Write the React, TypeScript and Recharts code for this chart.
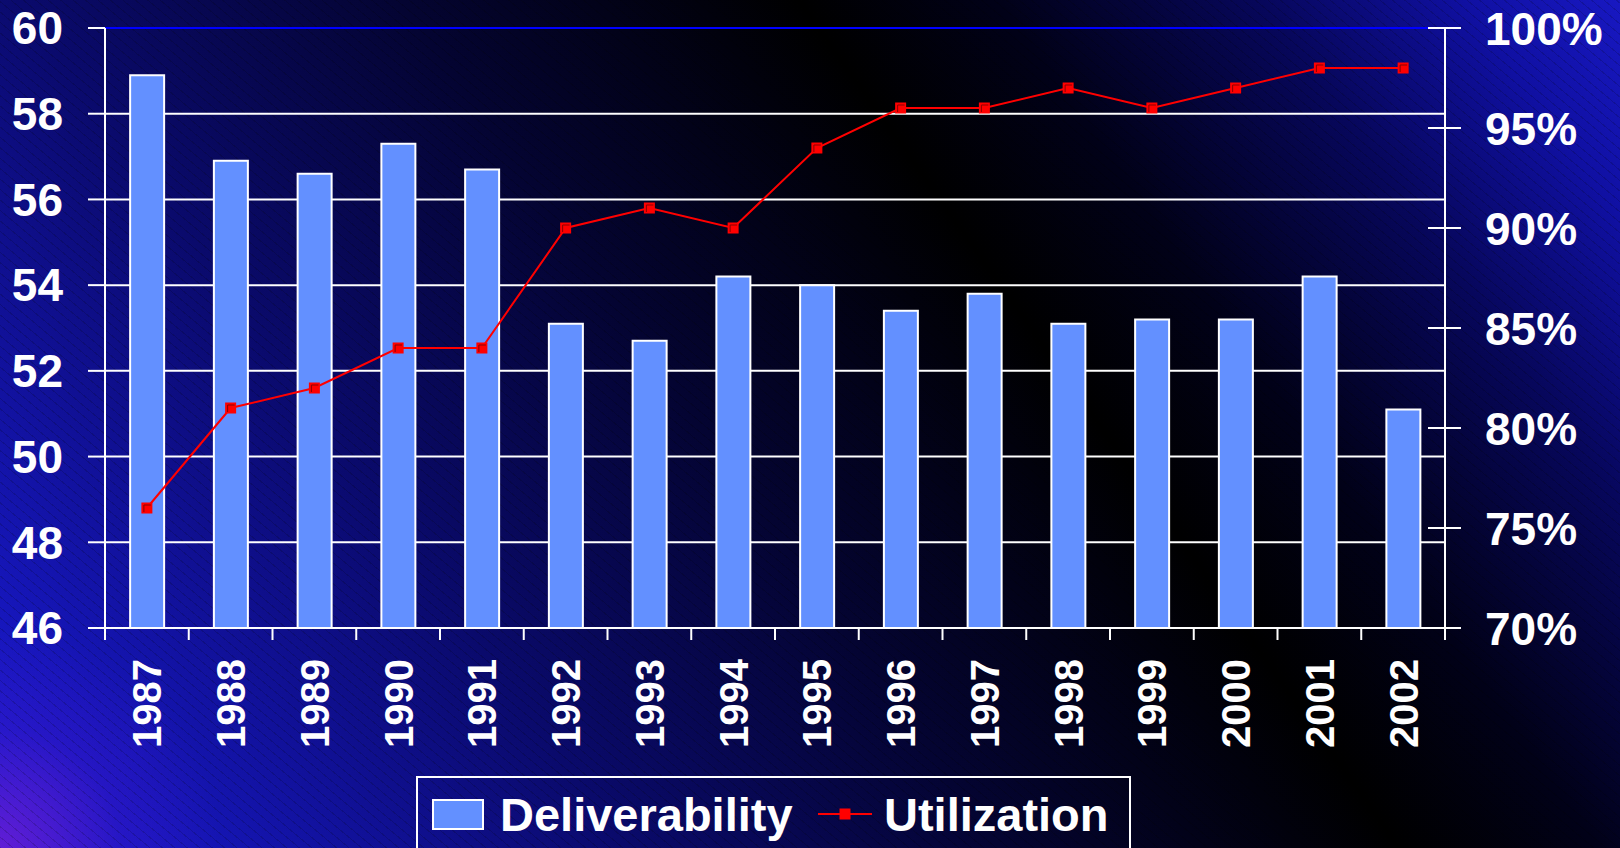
import React from 'react';
import {
  ComposedChart,
  Bar,
  Line,
  XAxis,
  YAxis,
  CartesianGrid,
  ReferenceLine,
  Legend,
} from 'recharts';

const years = ['1987', '1988', '1989', '1990', '1991', '1992', '1993', '1994', '1995', '1996', '1997', '1998', '1999', '2000', '2001', '2002'];
const deliverability = [58.9, 56.9, 56.6, 57.3, 56.7, 53.1, 52.7, 54.2, 54.0, 53.4, 53.8, 53.1, 53.2, 53.2, 54.2, 51.1];
const utilization = [76, 81, 82, 84, 84, 90, 91, 90, 94, 96, 96, 97, 96, 97, 98, 98];
const leftTicks = [46, 48, 50, 52, 54, 56, 58, 60];
const rightTicks = [70, 75, 80, 85, 90, 95, 100];

const data = years.map((year, i) => ({
  year,
  deliverability: deliverability[i],
  utilization: utilization[i],
}));

const FONT = '"Liberation Sans", Arial, Helvetica, sans-serif';
const BAR_BLUE = '#6390ff';

function YearTick(props: any) {
  const { x, y, payload, index, visibleTicksCount } = props;
  const half = payload?.offset ?? 0;
  return (
    <g>
      <line x1={x - half} x2={x - half} y1={y} y2={y + 12} stroke="#fff" strokeWidth={2} />
      {index === visibleTicksCount - 1 && (
        <line x1={x + half} x2={x + half} y1={y} y2={y + 12} stroke="#fff" strokeWidth={2} />
      )}
      <text
        transform={`translate(${x},${y + 31}) rotate(-90)`}
        textAnchor="end"
        dy="0.36em"
        fill="#fff"
        fontSize={40}
        fontWeight={700}
        fontFamily={FONT}
      >
        {payload.value}
      </text>
    </g>
  );
}

function PctTick(props: any) {
  const { x, y, payload } = props;
  return (
    <g>
      <line x1={x - 17} x2={x + 16} y1={y} y2={y} stroke="#fff" strokeWidth={2} />
      <text x={x + 40} y={y} dy="0.36em" textAnchor="start" fill="#fff" fontSize={46} fontWeight={700} fontFamily={FONT}>
        {`${payload.value}%`}
      </text>
    </g>
  );
}

function SquareDot(props: any) {
  const { cx, cy } = props;
  if (cx == null || cy == null) return null;
  return (
    <g>
      <rect x={cx - 5.5} y={cy - 5.5} width={11} height={11} fill="#ff0000" />
      <path d={`M${cx - 3},${cy + 4} V${cy - 3} H${cx + 4}`} stroke="#8a0000" strokeWidth={1} fill="none" />
    </g>
  );
}

function LegendBox() {
  const textStyle: React.CSSProperties = {
    position: 'absolute',
    top: 13,
    fontSize: 47,
    lineHeight: '47px',
    fontWeight: 700,
    color: '#fff',
    fontFamily: FONT,
    whiteSpace: 'nowrap',
  };
  return (
    <div
      style={{
        position: 'relative',
        width: 715,
        height: 110,
        border: '2px solid #fff',
        boxSizing: 'border-box',
      }}
    >
      <div
        style={{
          position: 'absolute',
          left: 14,
          top: 21,
          width: 52,
          height: 31,
          background: BAR_BLUE,
          border: '2px solid #fff',
          boxSizing: 'border-box',
        }}
      />
      <div style={{ ...textStyle, left: 82 }}>Deliverability</div>
      <svg style={{ position: 'absolute', left: 400, top: 26 }} width={54} height={20}>
        <line x1={0} x2={54} y1={10} y2={10} stroke="#ff0000" strokeWidth={2} />
        <rect x={21.5} y={4.5} width={11} height={11} fill="#ff0000" />
      </svg>
      <div style={{ ...textStyle, left: 466 }}>Utilization</div>
    </div>
  );
}

export default function App() {
  return (
    <div
      style={{
        position: 'absolute',
        left: 0,
        top: 0,
        width: 1620,
        height: 848,
        overflow: 'hidden',
        fontFamily: FONT,
        background: [
          'repeating-linear-gradient(40deg, rgba(0,0,0,0.16) 0px, rgba(0,0,0,0.16) 1px, transparent 1px, transparent 8px)',
          'radial-gradient(circle at 0% 100%, rgba(120,30,215,0.75) 0px, rgba(80,20,210,0.25) 120px, rgba(0,0,0,0) 220px)',
          'linear-gradient(54.7deg, #1c1cd2 0%, #1616ba 8%, #0a0a6c 28%, #040432 45%, #000000 63%, #010118 72%, #07075c 84%, #1010a2 93%, #1818c2 100%)',
        ].join(', '),
      }}
    >
      <ComposedChart
        width={1620}
        height={848}
        data={data}
        margin={{ top: 28, right: 0, left: 0, bottom: 0 }}
        barCategoryGap="30%"
      >
        <CartesianGrid yAxisId="left" vertical={false} stroke="#fff" strokeWidth={2} horizontalValues={leftTicks} />
        <XAxis
          dataKey="year"
          height={220}
          interval={0}
          axisLine={{ stroke: '#fff', strokeWidth: 2 }}
          tickLine={false}
          tickSize={0}
          tickMargin={0}
          tick={<YearTick />}
        />
        <YAxis
          yAxisId="left"
          orientation="left"
          width={105}
          domain={[46, 60]}
          ticks={leftTicks}
          allowDataOverflow
          axisLine={{ stroke: '#fff', strokeWidth: 2 }}
          tickLine={{ stroke: '#fff', strokeWidth: 2 }}
          tickSize={17}
          tickMargin={25}
          tick={{ fill: '#fff', fontSize: 46, fontWeight: 700, fontFamily: FONT }}
        />
        <YAxis
          yAxisId="right"
          orientation="right"
          width={175}
          domain={[70, 100]}
          ticks={rightTicks}
          allowDataOverflow
          axisLine={{ stroke: '#fff', strokeWidth: 2 }}
          tickLine={false}
          tickSize={0}
          tickMargin={0}
          tick={<PctTick />}
        />
        <ReferenceLine yAxisId="left" y={60} stroke="#0000ff" strokeWidth={2} />
        <Bar
          yAxisId="left"
          dataKey="deliverability"
          name="Deliverability"
          fill={BAR_BLUE}
          stroke="#fff"
          strokeWidth={2}
          isAnimationActive={false}
        />
        <Line
          yAxisId="right"
          dataKey="utilization"
          name="Utilization"
          type="linear"
          stroke="#ff0000"
          strokeWidth={2}
          dot={<SquareDot />}
          activeDot={false}
          isAnimationActive={false}
        />
        <Legend
          layout="horizontal"
          verticalAlign="middle"
          align="center"
          content={() => <LegendBox />}
          wrapperStyle={{ position: 'absolute', left: 416, top: 776, width: 715, height: 110 }}
        />
      </ComposedChart>
    </div>
  );
}
